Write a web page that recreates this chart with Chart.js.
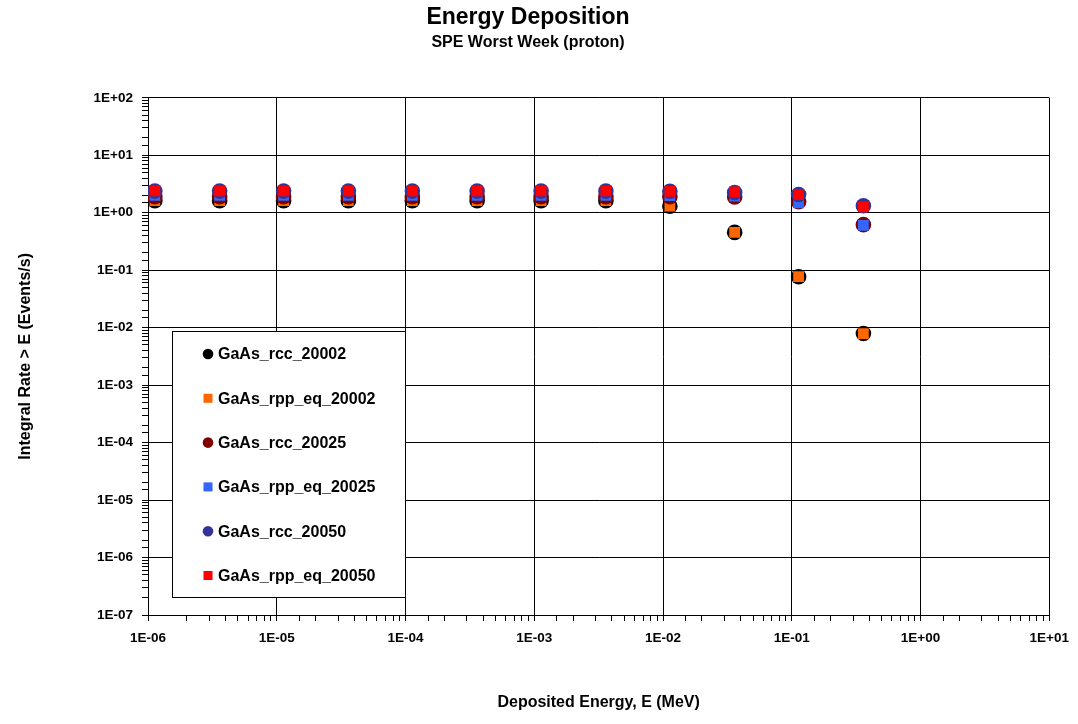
<!DOCTYPE html>
<html>
<head>
<meta charset="utf-8">
<script src="https://cdn.jsdelivr.net/npm/chart.js@4.4.1/dist/chart.umd.min.js"></script>
<style>
  body { margin: 0; background: #fff; }
  #chart { display: block; }
</style>
</head>
<body>
<canvas id="chart" width="1078" height="724"></canvas>
<script>
//Deposited energy (MeV) at which each point sits
const energy = [1.13e-6, 3.6e-6, 1.13e-5, 3.6e-5, 1.13e-4, 3.6e-4, 1.13e-3, 3.6e-3, 1.13e-2, 3.6e-2, 1.13e-1, 3.6e-1];
//Integral rate > E (events/s) for each series
const rcc20002 = [1.62, 1.62, 1.62, 1.62, 1.62, 1.62, 1.62, 1.62, 1.3, 0.455, 0.077, 0.0079];
const rpp20002 = [1.62, 1.62, 1.62, 1.62, 1.62, 1.62, 1.62, 1.62, 1.3, 0.455, 0.077, 0.0079];
const rcc20025 = [1.9, 1.9, 1.9, 1.9, 1.9, 1.9, 1.9, 1.9, 1.9, 1.88, 1.55, 0.62];
const rpp20025 = [2.0, 2.0, 2.0, 2.0, 2.0, 2.0, 2.0, 2.0, 1.98, 1.95, 1.48, 0.6];
const rcc20050 = [2.38, 2.38, 2.38, 2.38, 2.38, 2.38, 2.38, 2.38, 2.36, 2.25, 2.08, 1.32];
const rpp20050 = [2.4, 2.4, 2.4, 2.4, 2.4, 2.4, 2.4, 2.4, 2.35, 2.3, 2.06, 1.26];
//Axis limits (decades)
const xMin = 1e-6, xMax = 1e1;
const yMin = 1e-7, yMax = 1e2;

const FONT = "'Liberation Sans', Arial, sans-serif";

const toPoints = (ys) => ys.map((y, i) => ({ x: energy[i], y: y }));

//1E+02 style labels, only on whole decades
const expLabel = (v) => {
  const l = Math.log10(v);
  const e = Math.round(l);
  if (Math.abs(l - e) > 1e-6) return "";
  return "1E" + (e < 0 ? "-" : "+") + String(Math.abs(e)).padStart(2, "0");
};
const isDecade = (v) => {
  const l = Math.log10(v);
  return Math.abs(l - Math.round(l)) < 1e-6;
};

//series: label, color, marker, draw order (lower = on top)
const series = [
  { label: "GaAs_rcc_20002", data: rcc20002, color: "#000000", style: "circle", order: 6 },
  { label: "GaAs_rpp_eq_20002", data: rpp20002, color: "#FF6600", style: "rect", order: 5 },
  { label: "GaAs_rcc_20025", data: rcc20025, color: "#800000", style: "circle", order: 4 },
  { label: "GaAs_rpp_eq_20025", data: rpp20025, color: "#3366FF", style: "rect", order: 3 },
  { label: "GaAs_rcc_20050", data: rcc20050, color: "#333399", style: "circle", order: 2 },
  { label: "GaAs_rpp_eq_20050", data: rpp20050, color: "#FF0000", style: "rect", order: 1 },
];

//legend box drawn inside the plot, like the original
const boxLegend = {
  id: "boxLegend",
  afterDatasetsDraw(chart) {
    const ctx = chart.ctx;
    const bx = 172, by = 331, bw = 233, bh = 266;
    ctx.save();
    ctx.fillStyle = "#ffffff";
    ctx.fillRect(bx, by, bw, bh);
    ctx.strokeStyle = "#000000";
    ctx.lineWidth = 1;
    ctx.strokeRect(bx + 0.5, by + 0.5, bw, bh);
    ctx.font = "bold 16px " + FONT;
    ctx.textBaseline = "middle";
    ctx.textAlign = "left";
    chart.data.datasets.forEach((ds, i) => {
      const y = by + 23 + i * 44.3;
      const mx = bx + 36;
      ctx.fillStyle = ds.backgroundColor;
      if (ds.pointStyle === "circle") {
        ctx.beginPath();
        ctx.arc(mx, y, 5.3, 0, Math.PI * 2);
        ctx.fill();
      } else {
        ctx.fillRect(mx - 4.5, y - 4.5, 9, 9);
      }
      ctx.fillStyle = "#000000";
      ctx.fillText(ds.label, bx + 46, y + 1);
    });
    ctx.restore();
  },
};

const tickFont = { family: FONT, size: 13.5, weight: "bold" };
const axisTitleFont = { family: FONT, size: 16, weight: "bold" };

new Chart(document.getElementById("chart"), {
  type: "scatter",
  plugins: [boxLegend],
  data: {
    datasets: series.map((s) => ({
      label: s.label,
      data: toPoints(s.data),
      backgroundColor: s.color,
      borderColor: s.color,
      borderWidth: 0,
      pointStyle: s.style,
      pointRadius: s.style === "circle" ? 7.8 : 7.6,
      pointHoverRadius: s.style === "circle" ? 7.8 : 7.6,
      order: s.order,
    })),
  },
  options: {
    responsive: false,
    devicePixelRatio: 1,
    animation: false,
    layout: { padding: { left: 0, right: 22, top: 0, bottom: 0 } },
    plugins: {
      legend: { display: false },
      tooltip: { enabled: false },
      title: {
        display: true,
        text: "Energy Deposition",
        color: "#000",
        font: { family: FONT, size: 23, weight: "bold" },
        padding: { top: 4, bottom: 1 },
      },
      subtitle: {
        display: true,
        text: "SPE Worst Week (proton)",
        color: "#000",
        font: { family: FONT, size: 16, weight: "bold" },
        padding: { top: 0, bottom: 46 },
      },
    },
    scales: {
      x: {
        type: "logarithmic",
        position: "bottom",
        min: xMin,
        max: xMax,
        afterFit: (scale) => { scale.height = 109; },
        border: { color: "#000", width: 1 },
        grid: {
          color: (c) => (c.tick && isDecade(c.tick.value) ? "#000" : "rgba(0,0,0,0)"),
          tickColor: "#000",
          tickLength: 6,
        },
        ticks: {
          autoSkip: false,
          maxRotation: 0,
          padding: 9,
          color: "#000",
          font: tickFont,
          callback: (v) => expLabel(v),
        },
        title: {
          display: true,
          text: "Deposited Energy, E (MeV)",
          color: "#000",
          font: axisTitleFont,
          padding: { top: 0, bottom: 12 },
        },
      },
      y: {
        type: "logarithmic",
        position: "left",
        min: yMin,
        max: yMax,
        afterFit: (scale) => { scale.width = 148; },
        border: { color: "#000", width: 1 },
        grid: {
          color: (c) => (c.tick && isDecade(c.tick.value) ? "#000" : "rgba(0,0,0,0)"),
          tickColor: "#000",
          tickLength: 6,
        },
        ticks: {
          autoSkip: false,
          padding: 9,
          color: "#000",
          font: tickFont,
          callback: (v) => expLabel(v),
        },
        title: {
          display: true,
          text: "Integral Rate > E (Events/s)",
          color: "#000",
          font: axisTitleFont,
          padding: { top: 16, bottom: 0 },
        },
      },
    },
  },
});
</script>
</body>
</html>
